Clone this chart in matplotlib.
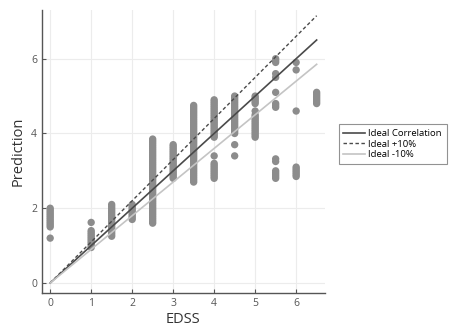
import matplotlib.pyplot as plt

# EDSS score -> predicted values
edss = [0, 1, 1.5, 2, 2.5, 3, 3.5, 4, 4.5, 5, 5.5, 6, 6.5]
preds = [
    [1.2, 1.5, 1.55, 1.6, 1.65, 1.7, 1.75, 1.8, 1.85, 1.9, 1.95, 2.0],
    [0.95, 1.0, 1.05, 1.1, 1.15, 1.2, 1.25, 1.3, 1.35, 1.4, 1.62],
    [1.25, 1.3, 1.35, 1.4, 1.45, 1.5, 1.55, 1.6, 1.65, 1.7, 1.75, 1.8, 1.85,
     1.9, 1.95, 2.0, 2.05, 2.1],
    [1.7, 1.75, 1.8, 1.85, 1.9, 1.95, 2.0, 2.05, 2.1],
    [1.6, 1.65, 1.7, 1.75, 1.8, 1.85, 1.9, 1.95, 2.0, 2.05, 2.1, 2.15, 2.2,
     2.25, 2.3, 2.35, 2.4, 2.45, 2.5, 2.55, 2.6, 2.65, 2.7, 2.75, 2.8, 2.85,
     2.9, 2.95, 3.0, 3.05, 3.1, 3.15, 3.2, 3.25, 3.3, 3.35, 3.4, 3.45, 3.5,
     3.55, 3.6, 3.65, 3.7, 3.75, 3.8, 3.85],
    [2.8, 2.85, 2.9, 2.95, 3.0, 3.05, 3.1, 3.15, 3.2, 3.25, 3.3, 3.35, 3.4,
     3.45, 3.5, 3.55, 3.6, 3.65, 3.7],
    [2.7, 2.75, 2.8, 2.85, 2.9, 2.95, 3.0, 3.05, 3.1, 3.15, 3.2, 3.25, 3.3,
     3.35, 3.4, 3.45, 3.5, 3.55, 3.6, 3.65, 3.7, 3.75, 3.8, 3.85, 3.9, 3.95,
     4.0, 4.05, 4.1, 4.15, 4.2, 4.25, 4.3, 4.35, 4.4, 4.45, 4.5, 4.55, 4.6,
     4.65, 4.7, 4.75],
    [2.8, 2.85, 2.9, 2.95, 3.0, 3.05, 3.1, 3.15, 3.2, 3.4, 3.9, 3.95, 4.0,
     4.05, 4.1, 4.15, 4.2, 4.25, 4.3, 4.35, 4.4, 4.45, 4.5, 4.55, 4.6, 4.65,
     4.7, 4.75, 4.8, 4.85, 4.9],
    [3.4, 3.7, 4.0, 4.05, 4.1, 4.15, 4.2, 4.25, 4.3, 4.35, 4.4, 4.45, 4.5,
     4.55, 4.6, 4.65, 4.7, 4.75, 4.8, 4.85, 4.9, 4.95, 5.0],
    [3.9, 3.95, 4.0, 4.05, 4.1, 4.15, 4.2, 4.25, 4.3, 4.35, 4.4, 4.45, 4.5,
     4.6, 4.8, 4.85, 4.9, 4.95, 5.0],
    [2.8, 2.85, 2.9, 2.95, 3.0, 3.25, 3.32, 4.7, 4.75, 4.8, 5.1, 5.5, 5.6,
     5.9, 5.95, 6.0],
    [2.85, 2.9, 2.95, 3.0, 3.05, 3.1, 4.6, 5.7, 5.9],
    [4.8, 4.85, 4.9, 4.95, 5.0, 5.05, 5.1],
]
line_x = [0, 6.5]
x_ticks = [0, 1, 2, 3, 4, 5, 6]
y_ticks = [0, 2, 4, 6]

plt.rcParams['font.family'] = ['Open Sans', 'DejaVu Sans']

fig = plt.figure(figsize=(4.49, 3.26), dpi=100)
ax = fig.add_axes([0.0935, 0.101, 0.630, 0.868])

# scatter, one column per EDSS value
for e, vals in zip(edss, preds):
    ax.scatter([e] * len(vals), vals, s=28, color='#8c8c8c', edgecolors='none', zorder=3)

ax.plot(line_x, line_x, color='#4a4a4a', lw=1.2, label='Ideal Correlation', zorder=4)
ax.plot(line_x, [v * 1.1 for v in line_x], color='#4a4a4a', lw=1.0, ls=(0, (2.5, 1.8)),
        label='Ideal +10%', zorder=4)
ax.plot(line_x, [v * 0.9 for v in line_x], color='#c4c4c4', lw=1.2, label='Ideal -10%', zorder=4)

ax.set_xlim(-0.2, 6.7)
ax.set_ylim(-0.27, 7.3)
ax.set_xticks(x_ticks)
ax.set_yticks(y_ticks)
ax.grid(True, color='#ececec', lw=0.8)
ax.set_axisbelow(True)
for s in ['top', 'right']:
    ax.spines[s].set_visible(False)
for s in ['left', 'bottom']:
    ax.spines[s].set_color('#555555')
    ax.spines[s].set_linewidth(1.0)
ax.tick_params(direction='in', length=3, width=0.8, colors='#555555', labelsize=7.5,
               labelcolor='#555555')
ax.set_xlabel('EDSS', fontsize=10.5, color='#333333', labelpad=2)
ax.set_ylabel('Prediction', fontsize=10.5, color='#333333', labelpad=4)

leg = fig.legend(loc='center left', bbox_to_anchor=(0.75, 0.558), fontsize=6.8,
                 frameon=True, fancybox=False, edgecolor='#777777', handlelength=2.3,
                 borderpad=0.5, labelspacing=0.15, handletextpad=0.35, borderaxespad=0.2)
leg.get_frame().set_linewidth(0.8)

fig.savefig('out.png', dpi=100)
